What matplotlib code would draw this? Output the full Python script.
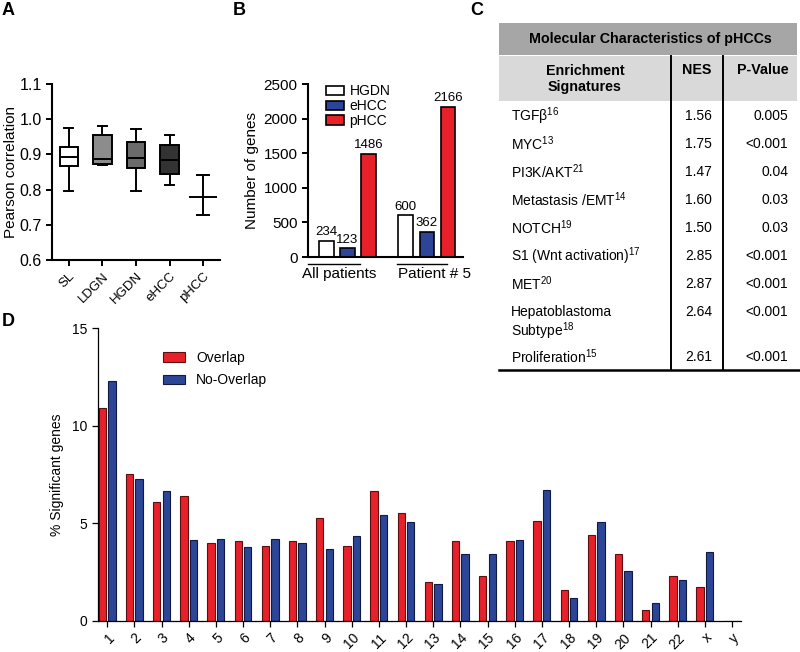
import matplotlib
matplotlib.use('Agg')
import matplotlib.pyplot as plt
from matplotlib.patches import Rectangle
import numpy as np

plt.rcParams['font.family'] = ['Liberation Sans', 'DejaVu Sans']
plt.rcParams['mathtext.fontset'] = 'custom'
plt.rcParams['mathtext.rm'] = 'Liberation Sans'

# ---- panel A: Pearson correlation per stage
stages = ['SL', 'LDGN', 'HGDN', 'eHCC', 'pHCC']
whis_lo = [0.795, 0.870, 0.795, 0.812]
box_q1 = [0.868, 0.873, 0.861, 0.845]
box_med = [0.893, 0.886, 0.891, 0.883]
box_q3 = [0.922, 0.955, 0.936, 0.927]
whis_hi = [0.974, 0.980, 0.973, 0.955]
phcc_mean = 0.779
phcc_lo = 0.728
phcc_hi = 0.842

# ---- panel B: number of genes
b_groups = ['All patients', 'Patient # 5']
b_series = ['HGDN', 'eHCC', 'pHCC']
hgdn_genes = [234, 600]
ehcc_genes = [123, 362]
phcc_genes = [1486, 2166]

# ---- panel C: table
c_title = 'Molecular Characteristics of pHCCs'
c_signatures = ['TGFβ', 'MYC', 'PI3K/AKT', 'Metastasis /EMT', 'NOTCH',
                'S1 (Wnt activation)', 'MET', 'Hepatoblastoma\nSubtype', 'Proliferation']
c_refs = ['16', '13', '21', '14', '19', '17', '20', '18', '15']
c_nes = ['1.56', '1.75', '1.47', '1.60', '1.50', '2.85', '2.87', '2.64', '2.61']
c_pval = ['0.005', '<0.001', '0.04', '0.03', '0.03', '<0.001', '<0.001', '<0.001', '<0.001']

# ---- panel D: % significant genes per chromosome
chromosomes = [str(i) for i in range(1, 23)] + ['x', 'y']
overlap = [10.92, 7.52, 6.10, 6.39, 3.99, 4.11, 3.85, 4.11, 5.25, 3.85, 6.66, 5.53,
           2.00, 4.11, 2.28, 4.11, 5.11, 1.58, 4.41, 3.41, 0.58, 2.28, 1.72, 0]
no_overlap = [12.28, 7.29, 6.66, 4.13, 4.20, 3.78, 4.20, 3.99, 3.71, 4.34, 5.43, 5.08,
              1.90, 3.41, 3.41, 4.13, 6.73, 1.18, 5.08, 2.55, 0.90, 2.11, 3.55, 0]

RED = '#e8202a'
BLUE = '#2c4596'
W, H = 800, 652
fig = plt.figure(figsize=(W / 100, H / 100), dpi=100)


def px_axes(left, top, right, bottom):
    return fig.add_axes([left / W, 1 - bottom / H, (right - left) / W, (bottom - top) / H])


def clean(ax, lw):
    for s in ['top', 'right']:
        ax.spines[s].set_visible(False)
    for s in ['left', 'bottom']:
        ax.spines[s].set_linewidth(lw)


# ================= A
axA = px_axes(52, 84, 220, 260)
clean(axA, 1.5)
box_colors = ['white', '#8c8c8c', '#6b6b6b', '#333333']
stats = []
for i in range(len(box_med)):
    stats.append({'whislo': whis_lo[i], 'q1': box_q1[i], 'med': box_med[i],
                  'q3': box_q3[i], 'whishi': whis_hi[i], 'fliers': []})
bp = axA.bxp(stats, positions=range(len(stats)), widths=0.55, patch_artist=True,
             showfliers=False,
             boxprops=dict(linewidth=1.4, edgecolor='black'),
             medianprops=dict(color='black', linewidth=1.4),
             whiskerprops=dict(linewidth=1.4), capprops=dict(linewidth=1.4))
for patch, col in zip(bp['boxes'], box_colors):
    patch.set_facecolor(col)
axA.errorbar([len(stats)], [phcc_mean], yerr=[[phcc_mean - phcc_lo], [phcc_hi - phcc_mean]],
             fmt='_', color='black', markersize=20, mew=1.4, elinewidth=1.4,
             capsize=5, capthick=1.4)
axA.set_xlim(-0.5, 4.5)
axA.set_ylim(0.6, 1.1)
axA.set_yticks(np.arange(0.6, 1.11, 0.1))
axA.set_yticklabels(['%.1f' % v for v in np.arange(0.6, 1.11, 0.1)], fontsize=11.5)
axA.set_xticks(range(len(stages)))
axA.set_xticklabels(stages, rotation=45, ha='right', rotation_mode='anchor', fontsize=9.5)
axA.tick_params(width=1.4, length=4)
axA.set_ylabel('Pearson correlation', fontsize=11, labelpad=1)

# ================= B
axB = px_axes(308, 84, 463, 257)
clean(axB, 1.5)
gx = np.arange(len(b_groups))
off = 0.266
bw = 0.18
b_cols = ['white', BLUE, RED]
for k, (vals, col, name) in enumerate(zip([hgdn_genes, ehcc_genes, phcc_genes], b_cols, b_series)):
    xs = gx + (k - 1) * off
    axB.bar(xs, vals, width=bw, color=col, edgecolor='black', linewidth=1.2, label=name)
    for x, v in zip(xs, vals):
        axB.text(x, v + 40, str(v), ha='center', va='bottom', fontsize=9.5)
axB.set_xlim(-0.5, 1.46)
axB.set_ylim(0, 2500)
axB.set_yticks(range(0, 2501, 500))
axB.tick_params(axis='y', labelsize=11, width=1.4, length=4)
axB.set_xticks([])
axB.set_ylabel('Number of genes', fontsize=11, labelpad=3)
tr = axB.get_xaxis_transform()
for (x0, x1), xc, lab in zip([(-0.5, 0.16), (0.63, 1.26)], [-0.1, 1.1], b_groups):
    axB.plot([x0, x1], [-0.04, -0.04], color='black', lw=1.0, transform=tr, clip_on=False)
    axB.text(xc, -0.055, lab, ha='center', va='top', fontsize=11, transform=tr)
axB.legend(loc='upper left', bbox_to_anchor=(0.08, 1.03), frameon=False, fontsize=10,
           handlelength=1.3, handleheight=0.65, handletextpad=0.4, labelspacing=0.05,
           borderaxespad=0)

# ================= D
axD = px_axes(98, 328, 741, 621)
axD.patch.set_visible(False)
clean(axD, 0.9)
x = np.arange(1, len(chromosomes) + 1)
axD.bar(x - 0.175, overlap, width=0.27, color=RED, edgecolor='#5a1010', linewidth=0.8,
        label='Overlap')
axD.bar(x + 0.175, no_overlap, width=0.27, color=BLUE, edgecolor='#111a40', linewidth=0.8,
        label='No-Overlap')
axD.set_xlim(0.66, 24.33)
axD.set_ylim(0, 15)
axD.set_yticks([0, 5, 10, 15])
axD.set_xticks(x)
axD.set_xticklabels(chromosomes, rotation=45, ha='right', rotation_mode='anchor', fontsize=10)
axD.tick_params(labelsize=10, width=0.9, length=4)
axD.tick_params(axis='x', pad=3)
axD.set_ylabel('% Significant genes', fontsize=10, labelpad=6)
axD.legend(loc='upper left', bbox_to_anchor=(0.092, 0.94), frameon=False, fontsize=10,
           handlelength=1.6, handleheight=0.7, handletextpad=0.8, labelspacing=0.6,
           borderaxespad=0)

# ================= C  (table in pixel coordinates, drawn above D)
axC = px_axes(499, 23, 800, 372)
axC.set_zorder(5)
axC.set_xlim(499, 800)
axC.set_ylim(372, 23)
axC.axis('off')
axC.add_patch(Rectangle((499, 23), 298, 32, facecolor='#a6a6a6', edgecolor='none'))
axC.add_patch(Rectangle((499, 56), 298, 45, facecolor='#d9d9d9', edgecolor='none'))
axC.text(650, 39, c_title, ha='center', va='center', fontsize=10.3, fontweight='bold')
axC.text(585, 79, 'Enrichment\nSignatures', ha='center', va='center', fontsize=10.3,
         fontweight='bold', linespacing=1.1)
axC.text(697, 70, 'NES', ha='center', va='center', fontsize=10.3, fontweight='bold')
axC.text(763, 70, 'P-Value', ha='center', va='center', fontsize=10.3, fontweight='bold')
for xv in [671, 723]:
    axC.plot([xv, xv], [56, 370], color='black', lw=1.4)
axC.plot([499, 800], [370, 370], color='black', lw=1.8, clip_on=False)
row_y = 116
for sig, ref, nes, pv in zip(c_signatures, c_refs, c_nes, c_pval):
    lines = sig.split('\n')
    for j, ln in enumerate(lines):
        txt = ln + (r'$^{\mathregular{%s}}$' % ref if j == len(lines) - 1 else '')
        axC.text(511, row_y + j * 19, txt, ha='left', va='center', fontsize=10)
    axC.text(712, row_y, nes, ha='right', va='center', fontsize=10)
    axC.text(788, row_y, pv, ha='right', va='center', fontsize=10)
    row_y += 28 + 17 * (len(lines) - 1)

# panel letters
for lab, (px, py) in zip('ABCD', [(2, 2), (233, 2), (470, 2), (2, 313)]):
    fig.text(px / W, 1 - py / H, lab, ha='left', va='top', fontsize=13, fontweight='bold')

fig.savefig('out.png', dpi=100)
